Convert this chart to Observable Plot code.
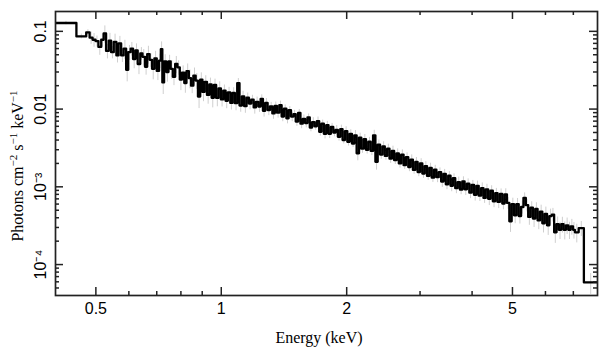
<!DOCTYPE html>
<html><head><meta charset="utf-8">
<script src="https://cdn.jsdelivr.net/npm/d3@7"></script>
<script src="https://cdn.jsdelivr.net/npm/@observablehq/plot@0.6"></script>
<style>body{margin:0;background:#fff}svg{display:block}</style>
</head><body><div id="chart"></div>
<script>
// Bin low edges (keV)
const energyLo = [
0.400,0.449,0.474,0.483,0.491,0.499,0.507,0.515,0.522,0.529,
0.537,0.544,0.552,0.560,0.567,0.575,0.583,0.591,0.598,0.606,
0.614,0.622,0.630,0.639,0.647,0.656,0.664,0.673,0.682,0.691,
0.700,0.709,0.716,0.722,0.729,0.738,0.747,0.756,0.765,0.775,
0.785,0.795,0.805,0.815,0.825,0.836,0.846,0.857,0.868,0.879,
0.890,0.901,0.912,0.924,0.936,0.948,0.960,0.972,0.985,0.998,
1.011,1.024,1.037,1.051,1.064,1.078,1.092,1.106,1.121,1.135,
1.150,1.165,1.180,1.196,1.211,1.227,1.243,1.259,1.275,1.292,
1.309,1.326,1.343,1.360,1.378,1.396,1.414,1.433,1.451,1.470,
1.490,1.509,1.529,1.549,1.569,1.589,1.610,1.631,1.652,1.674,
1.696,1.718,1.740,1.763,1.786,1.809,1.833,1.857,1.881,1.905,
1.930,1.955,1.981,2.007,2.033,2.059,2.086,2.113,2.141,2.168,
2.197,2.225,2.254,2.284,2.314,2.344,2.374,2.405,2.437,2.469,
2.501,2.534,2.567,2.600,2.634,2.668,2.703,2.739,2.774,2.811,
2.847,2.884,2.922,2.960,2.999,3.038,3.078,3.118,3.159,3.200,
3.242,3.284,3.327,3.371,3.415,3.459,3.505,3.551,3.597,3.644,
3.692,3.740,3.789,3.838,3.888,3.939,3.991,4.043,4.096,4.149,
4.204,4.259,4.314,4.371,4.428,4.486,4.545,4.604,4.665,4.726,
4.788,4.850,4.914,4.978,5.043,5.109,5.176,5.244,5.313,5.383,
5.454,5.525,5.598,5.671,5.745,5.821,5.897,5.975,6.053,6.132,
6.213,6.295,6.377,6.461,6.546,6.632,6.720,6.808,6.897,6.988,
7.060,7.210,7.420];
const energyMax = 8.0;
// Photons cm^-2 s^-1 keV^-1
const flux = [
0.128,0.086,0.097,0.083,0.078,0.075,0.063,0.078,0.094,0.056,
0.076,0.054,0.073,0.049,0.070,0.049,0.060,0.032,0.054,0.060,
0.044,0.057,0.038,0.052,0.047,0.035,0.051,0.043,0.033,0.045,
0.031,0.042,0.059,0.022,0.041,0.030,0.041,0.033,0.026,0.038,
0.0345,0.024,0.0295,0.0216,0.0307,0.025,0.020,0.027,0.0233,0.0145,
0.024,0.0166,0.0224,0.0152,0.0207,0.014,0.0204,0.0139,0.0184,0.0133,
0.0173,0.0128,0.0164,0.0120,0.0161,0.0119,0.0215,0.0111,0.0146,0.0109,
0.0140,0.0118,0.0132,0.0105,0.0124,0.0108,0.0135,0.0095,0.0120,0.0097,
0.0108,0.0088,0.0110,0.0090,0.0112,0.0080,0.0101,0.0076,0.0097,0.0080,
0.0086,0.0069,0.0089,0.0065,0.0075,0.0066,0.0078,0.0058,0.0068,0.0060,
0.0070,0.0051,0.0065,0.0048,0.0062,0.0048,0.0059,0.0050,0.0054,0.0044,
0.0055,0.0040,0.0052,0.0038,0.0048,0.0036,0.0046,0.0027,0.0043,0.0031,
0.0041,0.0030,0.0038,0.0029,0.0046,0.0021,0.0035,0.0026,0.0033,0.0025,
0.0031,0.0023,0.0029,0.0022,0.0027,0.0020,0.0026,0.0019,0.0024,0.0018,
0.00224,0.00165,0.00209,0.00155,0.0020,0.00148,0.00185,0.00138,0.00175,0.00131,
0.00166,0.00133,0.00155,0.00117,0.00147,0.00108,0.00139,0.00103,0.00129,0.00096,
0.00115,0.00092,0.00117,0.00093,0.00110,0.00084,0.00106,0.00079,0.00103,0.00077,
0.00096,0.00072,0.00093,0.00070,0.00089,0.00065,0.00083,0.00064,0.00081,0.00061,
0.00080,0.00062,0.00036,0.00060,0.00043,0.00060,0.00042,0.00055,0.00072,0.00058,
0.00041,0.00054,0.00039,0.00052,0.00037,0.00048,0.00034,0.00045,0.00032,0.00042,
0.00044,0.00026,0.00033,0.00028,0.00033,0.00028,0.00032,0.00028,0.00031,0.00028,
0.00026,0.000294,0.000059];
// Relative 1-sigma errors
const relErr = [
0.05,0.07,0.08,0.18,0.20,0.16,0.22,0.19,0.25,0.21,
0.24,0.18,0.26,0.20,0.23,0.19,0.28,0.30,0.22,0.20,
0.25,0.21,0.27,0.19,0.24,0.22,0.26,0.20,0.28,0.23,
0.25,0.21,0.24,0.30,0.22,0.26,0.20,0.27,0.23,0.25,
0.21,0.28,0.22,0.26,0.24,0.27,0.21,0.25,0.23,0.30,
0.22,0.25,0.20,0.24,0.21,0.26,0.19,0.23,0.22,0.20,
0.18,0.21,0.16,0.19,0.17,0.20,0.15,0.18,0.16,0.19,
0.15,0.17,0.14,0.18,0.15,0.16,0.13,0.17,0.14,0.15,
0.13,0.16,0.12,0.15,0.13,0.14,0.12,0.15,0.11,0.14,
0.12,0.13,0.11,0.14,0.12,0.13,0.11,0.12,0.14,0.11,
0.13,0.12,0.11,0.14,0.12,0.13,0.11,0.12,0.14,0.12,
0.13,0.11,0.14,0.12,0.13,0.11,0.15,0.20,0.14,0.13,
0.15,0.12,0.14,0.13,0.16,0.22,0.14,0.13,0.15,0.12,
0.14,0.13,0.15,0.12,0.14,0.13,0.15,0.12,0.14,0.13,
0.15,0.12,0.14,0.13,0.15,0.13,0.14,0.12,0.15,0.13,
0.14,0.15,0.13,0.16,0.14,0.15,0.13,0.16,0.14,0.15,
0.16,0.14,0.15,0.17,0.15,0.16,0.14,0.17,0.15,0.16,
0.17,0.15,0.16,0.18,0.16,0.17,0.15,0.18,0.16,0.17,
0.18,0.17,0.28,0.19,0.22,0.18,0.21,0.19,0.16,0.18,
0.22,0.19,0.23,0.20,0.24,0.21,0.25,0.22,0.26,0.23,
0.20,0.28,0.24,0.25,0.23,0.26,0.24,0.25,0.23,0.24,
0.27,0.22,0.30];

const xTicks = [0.5, 1, 2, 5];
const xTickLabels = ["0.5", "1", "2", "5"];
const xMinor = [0.6, 0.7, 0.8, 0.9, 3, 4, 6, 7];
const yTicks = [1e-4, 1e-3, 1e-2, 1e-1];
const yTickLabels = ["10\u207B\u2074", "10\u207B\u00B3", "0.01", "0.1"];
const yMinor = [5e-5,6e-5,7e-5,8e-5,9e-5,
  2e-4,3e-4,4e-4,5e-4,6e-4,7e-4,8e-4,9e-4,
  2e-3,3e-3,4e-3,5e-3,6e-3,7e-3,8e-3,9e-3,
  0.02,0.03,0.04,0.05,0.06,0.07,0.08,0.09];
const xDomain = [0.4, 8];
const yDomain = [4e-5, 0.18];
const xTitle = "Energy (keV)";
const yTitleParts = [["Photons cm", false], ["\u22122", true], [" s", false], ["\u22121", true], [" keV", false], ["\u22121", true]];

const n = Math.min(energyLo.length, flux.length, relErr.length);
const rows = [];
for (let i = 0; i < n; i++) {
  const lo = energyLo[i], hi = i < n - 1 ? energyLo[i + 1] : energyMax;
  rows.push({lo, hi, mid: Math.sqrt(lo * hi), f: flux[i], e: relErr[i]});
}
const steps = rows.map(r => ({x: r.lo, y: r.f}));
steps.push({x: energyMax, y: rows[n - 1].f});

const W = 609, H = 357, mL = 55, mR = 12, mT = 11, mB = 62;
const pw = W - mL - mR, ph = H - mT - mB;
const tickCol = "#222";
const sans = "'Liberation Sans', Arial, Helvetica, sans-serif";

const chart = Plot.plot({
  width: W, height: H,
  marginLeft: mL, marginRight: mR, marginTop: mT, marginBottom: mB,
  x: {type: "log", domain: xDomain, axis: null},
  y: {type: "log", domain: yDomain, axis: null},
  style: {fontFamily: sans, fontSize: "16px", background: "white", color: "black"},
  marks: [
    Plot.ruleX(rows, {x: "mid", y1: d => d.f * (1 - d.e), y2: d => d.f * (1 + d.e), stroke: "#cfcfcf", strokeWidth: 1, clip: true}),
    Plot.line(steps, {x: "x", y: "y", curve: "step-after", stroke: "black", strokeWidth: 2.3, clip: true}),
    Plot.tickX(xTicks, {x: d => d, insetTop: ph - 8, stroke: tickCol, strokeWidth: 1.5}),
    Plot.tickX(xTicks, {x: d => d, insetBottom: ph - 8, stroke: tickCol, strokeWidth: 1.5}),
    Plot.tickX(xMinor, {x: d => d, insetTop: ph - 4, stroke: tickCol, strokeWidth: 1.5}),
    Plot.tickX(xMinor, {x: d => d, insetBottom: ph - 4, stroke: tickCol, strokeWidth: 1.5}),
    Plot.tickY(yTicks, {y: d => d, insetRight: pw - 8, stroke: tickCol, strokeWidth: 1.5}),
    Plot.tickY(yTicks, {y: d => d, insetLeft: pw - 8, stroke: tickCol, strokeWidth: 1.5}),
    Plot.tickY(yMinor, {y: d => d, insetRight: pw - 4, stroke: tickCol, strokeWidth: 1.5}),
    Plot.tickY(yMinor, {y: d => d, insetLeft: pw - 4, stroke: tickCol, strokeWidth: 1.5}),
    Plot.frame({stroke: tickCol, strokeWidth: 1.7}),
    Plot.text(xTicks, {x: d => d, text: (d, i) => xTickLabels[i], frameAnchor: "bottom", lineAnchor: "top", dy: 7, fontSize: 16, fill: "black"}),
    Plot.text(yTicks, {y: d => d, text: (d, i) => yTickLabels[i], frameAnchor: "left", rotate: -90, textAnchor: "middle", lineAnchor: "bottom", dx: -10, fontSize: 16, fill: "black"})
  ]
});
document.getElementById("chart").appendChild(chart);

const svg = d3.select(chart);
svg.append("text")
  .attr("x", 319).attr("y", 343)
  .attr("text-anchor", "middle")
  .attr("font-family", "'Liberation Serif', 'Times New Roman', serif")
  .attr("font-size", 16).attr("fill", "black")
  .text(xTitle);
const yt = svg.append("text")
  .attr("transform", "translate(23,166) rotate(-90)")
  .attr("text-anchor", "middle")
  .attr("font-family", "'Liberation Serif', 'Times New Roman', serif")
  .attr("font-size", 16).attr("fill", "black");
let up = false;
for (const [s, sup] of yTitleParts) {
  const t = yt.append("tspan").text(s);
  if (sup && !up) { t.attr("dy", -6).attr("font-size", 11); up = true; }
  else if (sup) { t.attr("font-size", 11); }
  else if (!sup && up) { t.attr("dy", 6); up = false; }
}
</script>
</body></html>
